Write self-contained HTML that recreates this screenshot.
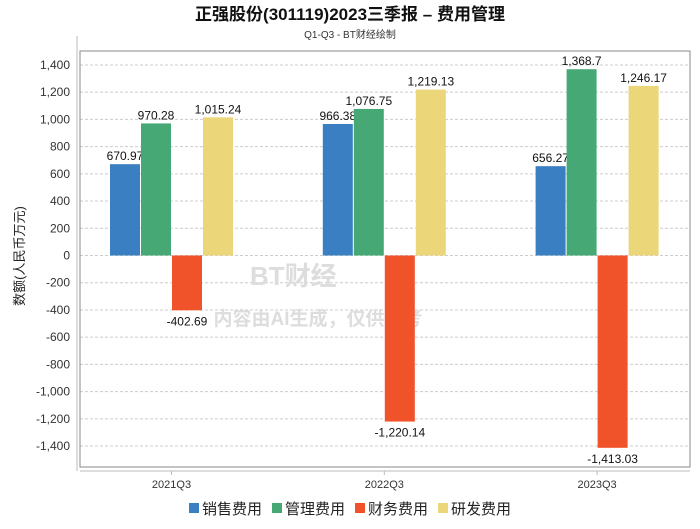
<!DOCTYPE html>
<html><head><meta charset="utf-8"><style>
body{margin:0;background:#fff;width:700px;height:524px;overflow:hidden;font-family:"Liberation Sans","Noto Sans CJK SC",sans-serif}
</style></head><body>
<svg width="700" height="524" xmlns="http://www.w3.org/2000/svg" font-family="Liberation Sans, Noto Sans CJK SC, sans-serif">
<text x="350" y="20" text-anchor="middle" font-size="17" font-weight="bold" fill="#111">正强股份(301119)2023三季报 – 费用管理</text>
<text x="350" y="38" text-anchor="middle" font-size="10" fill="#333">Q1-Q3 - BT财经绘制</text>
<line x1="77" y1="36" x2="77" y2="471" stroke="#bbb"/>
<line x1="80" y1="471" x2="690" y2="471" stroke="#bbb"/>
<g id="grid"></g>
<rect x="80" y="51" width="610" height="416" fill="none" stroke="#888"/>
<text x="250" y="285" font-size="26" fill="#ddd" font-weight="bold">BT财经</text>
<text x="318" y="325" text-anchor="middle" font-size="19" fill="#ddd" font-weight="bold">内容由AI生成，仅供参考</text>
<g id="bars"></g>
<text transform="translate(24,256) rotate(-90)" text-anchor="middle" font-size="13" fill="#222">数额(人民币万元)</text>
<g id="legend"></g>
</svg>
<script>
const categories=["2021Q3","2022Q3","2023Q3"];
const seriesNames=["销售费用","管理费用","财务费用","研发费用"];
const colors=["#3a7fc1","#46a874","#f0522a","#ecd67a"];
const sales=[670.97,966.38,656.27];
const admin=[970.28,1076.75,1368.7];
const finance=[-402.69,-1220.14,-1413.03];
const rnd=[1015.24,1219.13,1246.17];
const yTicks=[1400,1200,1000,800,600,400,200,0,-200,-400,-600,-800,-1000,-1200,-1400];
const labels=[["670.97","966.38","656.27"],["970.28","1,076.75","1,368.7"],["-402.69","-1,220.14","-1,413.03"],["1,015.24","1,219.13","1,246.17"]];
const NS="http://www.w3.org/2000/svg";
const y=v=>255.5-v*0.1361;
const xc=i=>171.5+i*212.8;
function mk(t,a,p){const e=document.createElementNS(NS,t);for(const k in a)e.setAttribute(k,a[k]);p.appendChild(e);return e;}
const grid=document.getElementById('grid');
yTicks.forEach(v=>{
 const l=mk('line',{x1:80,x2:690,y1:y(v),y2:y(v),stroke:'#ccc','stroke-dasharray':'3,2'},grid);
 
 
 const t=mk('text',{x:70,y:y(v)+4,'text-anchor':'end','font-size':12,fill:'#333'},grid);
 t.textContent=v.toLocaleString('en-US');
 
 
});
categories.forEach((c,i)=>{
 const tk=mk('line',{x1:xc(i),x2:xc(i),y1:471,y2:475,stroke:'#bbb'},grid);
 
 
 const t=mk('text',{x:xc(i),y:488,'text-anchor':'middle','font-size':11,fill:'#333'},grid);
 t.textContent=c;
 
 
});
const bars=document.getElementById('bars');
const all=[sales,admin,finance,rnd];
all.forEach((s,si)=>s.forEach((v,i)=>{
 const x=xc(i)-61.5+si*31;
 const top=Math.min(y(v),y(0)),h=Math.abs(y(v)-y(0));
 const r=mk('rect',{x:x,y:top,width:30,height:h,fill:colors[si]},bars);
 
 
 const t=mk('text',{x:x+15,y:v>=0?y(v)-4:y(v)+15,'text-anchor':'middle','font-size':12,fill:'#111'},bars);
 t.textContent=labels[si][i];
 
 
}));
const lg=document.getElementById('legend');
const lx=[189,272,355,438];
seriesNames.forEach((n,i)=>{
 const r=mk('rect',{x:lx[i],y:503,width:10,height:10,fill:colors[i]},lg);
 
 
 const t=mk('text',{x:lx[i]+13,y:514,'font-size':15,fill:'#222'},lg);
 t.textContent=n;
 
 
});
</script>
</body></html>
